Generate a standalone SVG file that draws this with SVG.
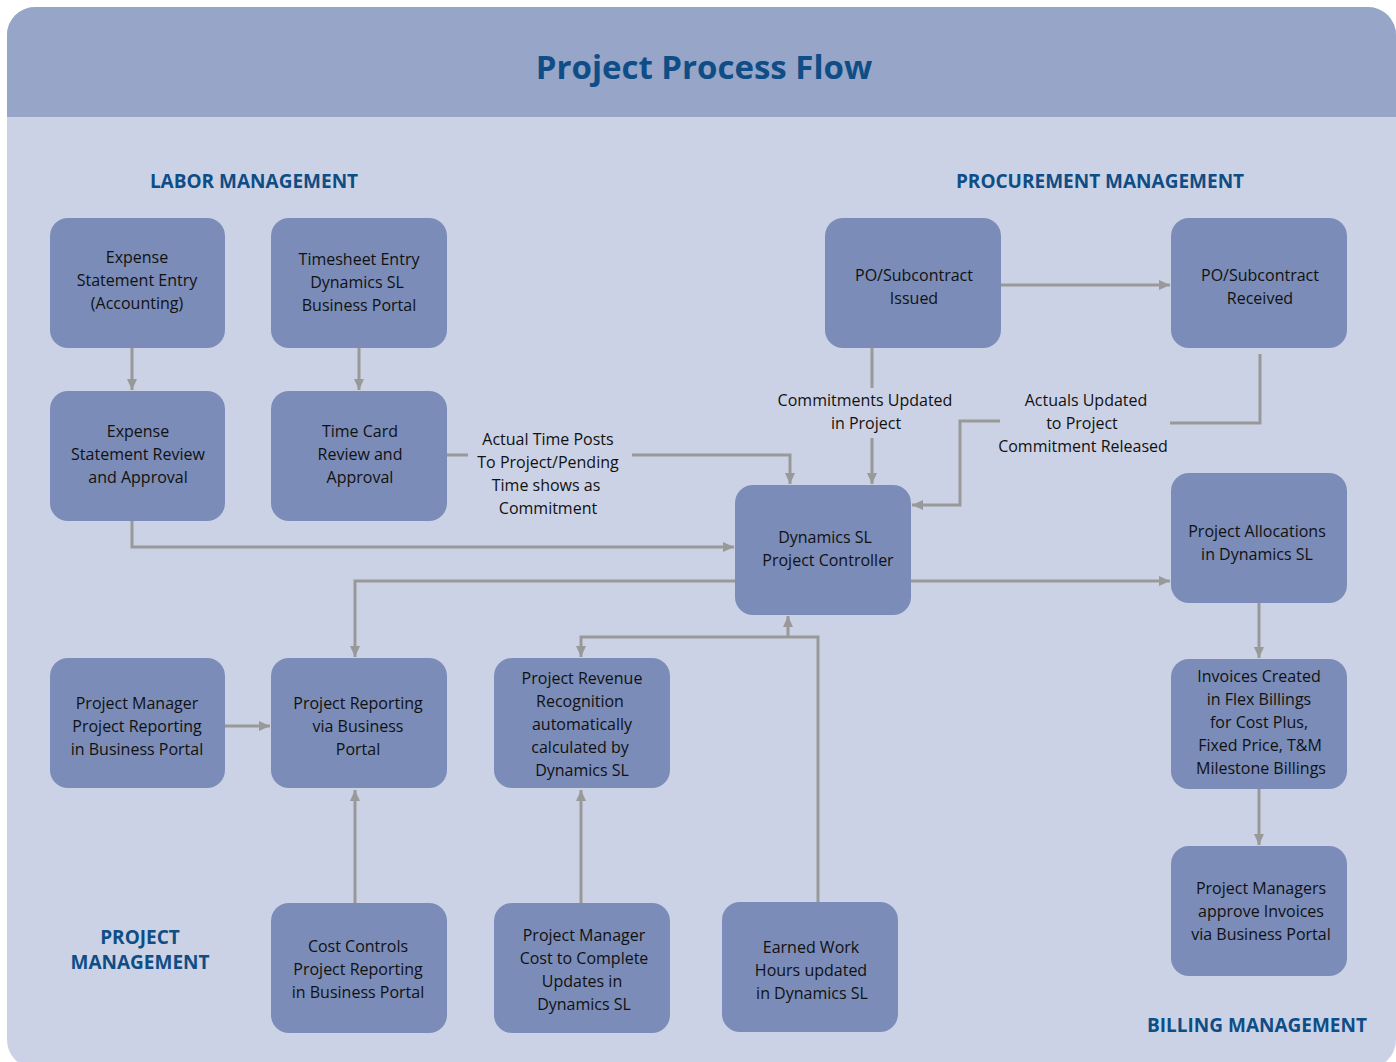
<svg xmlns="http://www.w3.org/2000/svg" width="1396" height="1062" viewBox="0 0 1396 1062">
<defs>
<style>
.node rect{fill:#7A8CB7;}
.node text,.lbl{font-family:"Open Sans","Noto Sans","Liberation Sans",sans-serif;font-size:16px;fill:#111;text-anchor:middle;dominant-baseline:central;}
.sec{font-family:"Open Sans","Noto Sans","Liberation Sans",sans-serif;font-size:19px;font-weight:bold;fill:#0E4D85;text-anchor:middle;dominant-baseline:central;}
.conn path{fill:none;stroke:#999999;stroke-width:3;}
.arr{marker-end:url(#ah);}
</style>
<marker id="ah" markerUnits="userSpaceOnUse" markerWidth="12" markerHeight="12" refX="11" refY="6" orient="auto">
<path d="M0,1 L11,6 L0,11 Z" fill="#999999"/>
</marker>
</defs>
<rect x="0" y="0" width="1396" height="1062" fill="#ffffff"/>
<rect x="7" y="7" width="1389" height="1061" rx="28" fill="#CCD2E5"/>
<path d="M7,117 V35 A28,28 0 0 1 35,7 H1368 A28,28 0 0 1 1396,35 V117 Z" fill="#96A5C8"/>
<text x="704" y="66" font-family="Open Sans,Noto Sans,Liberation Sans,sans-serif" font-size="33" font-weight="bold" fill="#0E4D85" text-anchor="middle" dominant-baseline="central">Project Process Flow</text>

<g id="sections">
<text class="sec" x="254" y="181">LABOR MANAGEMENT</text>
<text class="sec" x="1100" y="181">PROCUREMENT MANAGEMENT</text>
<text class="sec" x="140" y="937">PROJECT</text>
<text class="sec" x="140" y="962">MANAGEMENT</text>
<text class="sec" x="1257" y="1025">BILLING MANAGEMENT</text>
</g>

<g id="connectors" class="conn">
<path class="arr" d="M132,348 V390"/>
<path class="arr" d="M359,348 V390"/>
<path class="arr" d="M132,521 V547 H734"/>
<path d="M447,455 H468"/>
<path class="arr" d="M632,455 H790 V484"/>
<path class="arr" d="M1001,285 H1170"/>
<path d="M872,348 V388"/>
<path class="arr" d="M872,438 V484"/>
<path d="M1260,354 V423 H1170"/>
<path class="arr" d="M1000,421 H960 V505 H912"/>
<path class="arr" d="M911,581 H1170"/>
<path class="arr" d="M735,581 H355 V657"/>
<path class="arr" d="M225,726 H270"/>
<path class="arr" d="M355,903 V790"/>
<path class="arr" d="M581,903 V790"/>
<path class="arr" d="M818,902 V637 H581 V657"/>
<path class="arr" d="M788,637 V616"/>
<path class="arr" d="M1259,603 V658"/>
<path class="arr" d="M1259,789 V845"/>
</g>

<g id="edge-labels">
<text class="lbl" x="548" y="439">Actual Time Posts</text>
<text class="lbl" x="548" y="462">To Project/Pending</text>
<text class="lbl" x="546" y="485">Time shows as</text>
<text class="lbl" x="548" y="508">Commitment</text>
<text class="lbl" x="865" y="400">Commitments Updated</text>
<text class="lbl" x="866" y="423">in Project</text>
<text class="lbl" x="1086" y="400">Actuals Updated</text>
<text class="lbl" x="1082" y="423">to Project</text>
<text class="lbl" x="1083" y="446">Commitment Released</text>
</g>

<g id="n-expense-entry" class="node"><rect x="50" y="218" width="175" height="130" rx="18"/>
<text x="137" y="257">Expense</text><text x="137" y="280">Statement Entry</text><text x="137" y="303">(Accounting)</text></g>

<g id="n-timesheet" class="node"><rect x="271" y="218" width="176" height="130" rx="18"/>
<text x="359" y="259">Timesheet Entry</text><text x="357" y="282">Dynamics SL</text><text x="359" y="305">Business Portal</text></g>

<g id="n-expense-review" class="node"><rect x="50" y="391" width="175" height="130" rx="18"/>
<text x="138" y="431">Expense</text><text x="138" y="454">Statement Review</text><text x="138" y="477">and Approval</text></g>

<g id="n-timecard" class="node"><rect x="271" y="391" width="176" height="130" rx="18"/>
<text x="360" y="431">Time Card</text><text x="360" y="454">Review and</text><text x="360" y="477">Approval</text></g>

<g id="n-po-issued" class="node"><rect x="825" y="218" width="176" height="130" rx="18"/>
<text x="914" y="275">PO/Subcontract</text><text x="914" y="298">Issued</text></g>

<g id="n-po-received" class="node"><rect x="1171" y="218" width="176" height="130" rx="18"/>
<text x="1260" y="275">PO/Subcontract</text><text x="1260" y="298">Received</text></g>

<g id="n-controller" class="node"><rect x="735" y="485" width="176" height="130" rx="18"/>
<text x="825" y="537">Dynamics SL</text><text x="828" y="560">Project Controller</text></g>

<g id="n-allocations" class="node"><rect x="1171" y="473" width="176" height="130" rx="18"/>
<text x="1257" y="531">Project Allocations</text><text x="1257" y="554">in Dynamics SL</text></g>

<g id="n-invoices" class="node"><rect x="1171" y="659" width="176" height="130" rx="18"/>
<text x="1259" y="676">Invoices Created</text><text x="1259" y="699">in Flex Billings</text><text x="1259" y="722">for Cost Plus,</text><text x="1260" y="745">Fixed Price, T&amp;M</text><text x="1261" y="768">Milestone Billings</text></g>

<g id="n-pm-approve" class="node"><rect x="1171" y="846" width="176" height="130" rx="18"/>
<text x="1261" y="888">Project Managers</text><text x="1261" y="911">approve Invoices</text><text x="1261" y="934">via Business Portal</text></g>

<g id="n-pm-reporting" class="node"><rect x="50" y="658" width="175" height="130" rx="18"/>
<text x="137" y="703">Project Manager</text><text x="137" y="726">Project Reporting</text><text x="137" y="749">in Business Portal</text></g>

<g id="n-reporting-bp" class="node"><rect x="271" y="658" width="176" height="130" rx="18"/>
<text x="358" y="703">Project Reporting</text><text x="358" y="726">via Business</text><text x="358" y="749">Portal</text></g>

<g id="n-revenue" class="node"><rect x="494" y="658" width="176" height="130" rx="18"/>
<text x="582" y="678">Project Revenue</text><text x="580" y="701">Recognition</text><text x="582" y="724">automatically</text><text x="580" y="747">calculated by</text><text x="582" y="770">Dynamics SL</text></g>

<g id="n-cost-controls" class="node"><rect x="271" y="903" width="176" height="130" rx="18"/>
<text x="358" y="946">Cost Controls</text><text x="358" y="969">Project Reporting</text><text x="358" y="992">in Business Portal</text></g>

<g id="n-cost-complete" class="node"><rect x="494" y="903" width="176" height="130" rx="18"/>
<text x="584" y="935">Project Manager</text><text x="584" y="958">Cost to Complete</text><text x="582" y="981">Updates in</text><text x="584" y="1004">Dynamics SL</text></g>

<g id="n-earned" class="node"><rect x="722" y="902" width="176" height="130" rx="18"/>
<text x="811" y="947">Earned Work</text><text x="811" y="970">Hours updated</text><text x="812" y="993">in Dynamics SL</text></g>
</svg>
